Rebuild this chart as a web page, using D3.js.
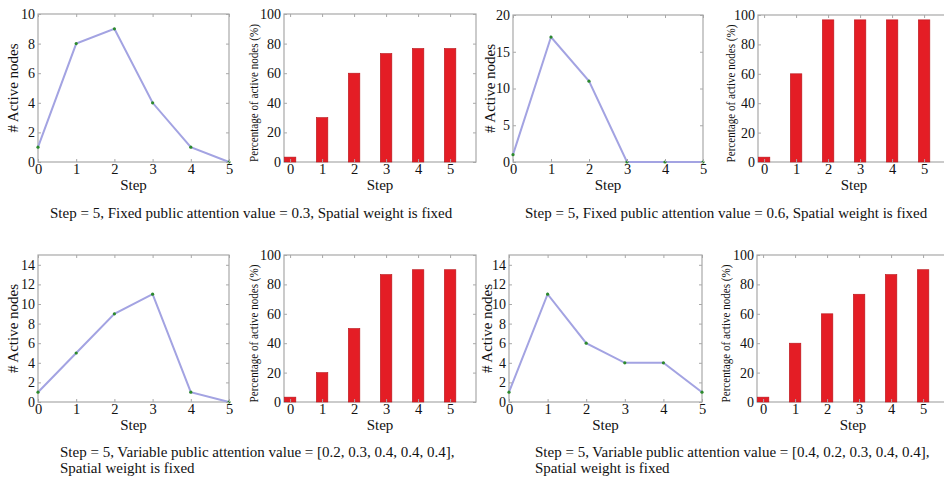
<!DOCTYPE html>
<html>
<head>
<meta charset="utf-8">
<script src="https://cdn.jsdelivr.net/npm/d3@7"></script>
<style>
  body { margin: 0; background: #fff; }
  svg text { font-family: "Liberation Serif", "DejaVu Serif", serif !important; fill: #111; }
</style>
</head>
<body>
<figure id="chart" style="margin:0"></figure>
<script>
// data
var steps = [0, 1, 2, 3, 4, 5];

// # active nodes per step (line panels)
var activeA = [1, 8, 9, 4, 1, 0];
var activeB = [1, 17, 11, 0, 0, 0];
var activeC = [1, 5, 9, 11, 1, 0];
var activeD = [1, 11, 6, 4, 4, 1];

// percentage of active nodes (bar panels)
var percentA = [3.3, 30, 60, 73.3, 76.7, 76.7];
var percentB = [3.3, 60, 96.7, 96.7, 96.7, 96.7];
var percentC = [3.3, 20, 50, 86.7, 90, 90];
var percentD = [3.3, 40, 60, 73.3, 86.7, 90];

var lineTicksA = [0, 2, 4, 6, 8, 10];
var lineTicksB = [0, 5, 10, 15, 20];
var lineTicksC = [0, 2, 4, 6, 8, 10, 12, 14];
var barTicks = [0, 20, 40, 60, 80, 100];

var captions = [
    ["Step = 5, Fixed public attention value = 0.3, Spatial weight is fixed"],
    ["Step = 5, Fixed public attention value = 0.6, Spatial weight is fixed"],
    ["Step = 5, Variable public attention value = [0.2, 0.3, 0.4, 0.4, 0.4],", "Spatial weight is fixed"],
    ["Step = 5, Variable public attention value = [0.4, 0.2, 0.3, 0.4, 0.4],", "Spatial weight is fixed"]
];

var width = 944, height = 478;
var serif = "'Liberation Serif', 'DejaVu Serif', serif";

var svg = d3.select("figure#chart")
    .append("svg")
    .attr("width", width)
    .attr("height", height)
    .attr("font-family", serif);

// panel boxes (pixel frames)
var panels = [
    {type: "line", values: activeA, ymax: 10, ticks: lineTicksA, x0: 38, x1: 229, y0: 14, y1: 162, lab: 25},
    {type: "bar", values: percentA, ymax: 100, ticks: barTicks, x0: 284, x1: 476, y0: 14, y1: 162, lab: 31},
    {type: "line", values: activeB, ymax: 20, ticks: lineTicksB, x0: 513, x1: 703, y0: 15, y1: 162, lab: 23},
    {type: "bar", values: percentB, ymax: 100, ticks: barTicks, x0: 758, x1: 950, y0: 15, y1: 162, lab: 28},
    {type: "line", values: activeC, ymax: 15, ticks: lineTicksC, x0: 38, x1: 229, y0: 255, y1: 402, lab: 25},
    {type: "bar", values: percentC, ymax: 100, ticks: barTicks, x0: 284, x1: 476, y0: 255, y1: 402, lab: 31},
    {type: "line", values: activeD, ymax: 15, ticks: lineTicksC, x0: 509, x1: 702, y0: 255, y1: 402, lab: 22},
    {type: "bar", values: percentD, ymax: 100, ticks: barTicks, x0: 757, x1: 949, y0: 255, y1: 402, lab: 32}
];

var boxColor = "#a8a8a8";

panels.forEach(function(p) {
    var g = svg.append("g");

    var xScale = d3.scaleLinear()
        .domain(p.type === "line" ? [0, 5] : [-0.19, 5.81])
        .range([p.x0, p.x1]);
    var yScale = d3.scaleLinear()
        .domain([0, p.ymax])
        .range([p.y1, p.y0]);

    // frame
    g.append("rect")
        .attr("x", p.x0).attr("y", p.y0)
        .attr("width", p.x1 - p.x0).attr("height", p.y1 - p.y0)
        .attr("fill", "none")
        .attr("stroke", boxColor)
        .attr("stroke-width", 1.2);

    if (p.type === "bar") {
        g.selectAll("rect.bar")
            .data(p.values)
            .enter()
            .append("rect")
            .attr("class", "bar")
            .attr("x", (d, i) => xScale(steps[i] - 0.18))
            .attr("width", xScale(0.18) - xScale(-0.18))
            .attr("y", d => yScale(d))
            .attr("height", d => yScale(0) - yScale(d))
            .attr("fill", "#e41d25")
            .attr("stroke", "#b8161c")
            .attr("stroke-width", 0.6);
    } else {
        var line = d3.line()
            .x((d, i) => xScale(steps[i]))
            .y(d => yScale(d));
        g.append("path")
            .datum(p.values)
            .attr("d", line)
            .attr("fill", "none")
            .attr("stroke", "#a3a3e2")
            .attr("stroke-width", 2);
        g.selectAll("circle")
            .data(p.values)
            .enter()
            .append("circle")
            .attr("cx", (d, i) => xScale(steps[i]))
            .attr("cy", d => yScale(d))
            .attr("r", 1.6)
            .attr("fill", "#2c8a2c");
    }

    // axes with matlab-style inside ticks
    var xAxis = g.append("g")
        .attr("transform", `translate(0, ${p.y1})`)
        .call(d3.axisBottom(xScale).tickValues(steps).tickSize(-3).tickPadding(2).tickFormat(d3.format("d")));
    var yAxis = g.append("g")
        .attr("transform", `translate(${p.x0}, 0)`)
        .call(d3.axisLeft(yScale).tickValues(p.ticks).tickSize(-3).tickPadding(3));
    g.append("g")
        .attr("transform", `translate(0, ${p.y0})`)
        .call(d3.axisTop(xScale).tickValues(steps).tickSize(-3).tickFormat(""));
    g.append("g")
        .attr("transform", `translate(${p.x1}, 0)`)
        .call(d3.axisRight(yScale).tickValues(p.ticks).tickSize(-3).tickFormat(""));

    g.selectAll(".domain").remove();
    g.selectAll(".tick line").attr("stroke", boxColor);
    g.selectAll("g").attr("font-family", serif);
    xAxis.selectAll("text").attr("font-size", 14.5).attr("fill", "#111");
    yAxis.selectAll("text").attr("font-size", 14).attr("fill", "#111");

    // axis titles
    g.append("text")
        .attr("x", (p.x0 + p.x1) / 2)
        .attr("y", p.y1 + 28)
        .attr("text-anchor", "middle")
        .attr("font-size", 15)
        .text("Step");

    if (p.type === "line") {
        g.append("text")
            .attr("transform", `translate(${p.x0 - p.lab}, ${(p.y0 + p.y1) / 2}) rotate(-90)`)
            .attr("dy", "0.35em")
            .attr("text-anchor", "middle")
            .attr("font-size", 15)
            .text("# Active nodes");
    } else {
        // the source squeezes this long title to the box height
        var yTitle = g.append("text")
            .attr("dy", "0.35em")
            .attr("text-anchor", "middle")
            .attr("font-size", 13)
            .text("Percentage of active nodes (%)");
        var len = yTitle.node().getComputedTextLength();
        var sx = Math.min(1, 138 / len);
        yTitle.attr("transform",
            `translate(${p.x0 - p.lab}, ${(p.y0 + p.y1) / 2 + 5}) rotate(-90) scale(${sx}, 1)`);
    }
});

// captions under each pair
var captionPos = [
    {x: 50, y: 218},
    {x: 525, y: 218},
    {x: 60, y: 457},
    {x: 535, y: 457}
];

captions.forEach(function(lines, k) {
    var c = captionPos[k];
    lines.forEach(function(t, j) {
        svg.append("text")
            .attr("x", c.x)
            .attr("y", c.y + j * 15.5)
            .attr("font-size", 15)
            .text(t);
    });
});
</script>
</body>
</html>
